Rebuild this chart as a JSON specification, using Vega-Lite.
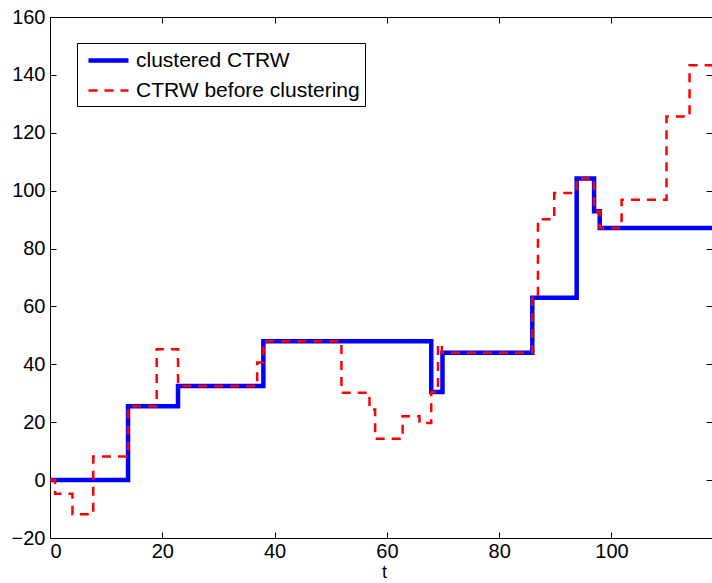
{
  "$schema": "https://vega.github.io/schema/vega-lite/v6.json",
  "autosize": {"type": "none"},
  "width": 662,
  "height": 521,
  "padding": {"left": 50, "top": 17, "right": 0, "bottom": 45},
  "background": "white",
  "config": {
    "view": {"stroke": "black", "strokeWidth": 1},
    "font": "Liberation Sans",
    "axis": {
      "grid": false,
      "domainColor": "black",
      "tickColor": "black",
      "labelColor": "black",
      "titleColor": "black",
      "labelFont": "Liberation Sans",
      "titleFont": "Liberation Sans",
      "labelFontSize": 20,
      "titleFontSize": 18,
      "titleFontWeight": "normal",
      "tickSize": -6
    }
  },
  "data": {
    "values": [
      {"series": "clustered CTRW", "t": 0, "v": 0},
      {"series": "clustered CTRW", "t": 13.9, "v": 25.5},
      {"series": "clustered CTRW", "t": 22.8, "v": 32.5},
      {"series": "clustered CTRW", "t": 38.0, "v": 48.0},
      {"series": "clustered CTRW", "t": 67.9, "v": 30.4},
      {"series": "clustered CTRW", "t": 69.9, "v": 44.0},
      {"series": "clustered CTRW", "t": 85.9, "v": 63.0},
      {"series": "clustered CTRW", "t": 93.8, "v": 104.2},
      {"series": "clustered CTRW", "t": 96.9, "v": 92.9},
      {"series": "clustered CTRW", "t": 97.9, "v": 87.1},
      {"series": "clustered CTRW", "t": 120, "v": 87.1},
      {"series": "CTRW before clustering", "t": 0, "v": 0},
      {"series": "CTRW before clustering", "t": 0.9, "v": -4.7},
      {"series": "CTRW before clustering", "t": 4.0, "v": -11.8},
      {"series": "CTRW before clustering", "t": 7.7, "v": 8.2},
      {"series": "CTRW before clustering", "t": 13.9, "v": 25.5},
      {"series": "CTRW before clustering", "t": 19.0, "v": 45.2},
      {"series": "CTRW before clustering", "t": 22.8, "v": 32.5},
      {"series": "CTRW before clustering", "t": 36.9, "v": 40.6},
      {"series": "CTRW before clustering", "t": 38.0, "v": 48.0},
      {"series": "CTRW before clustering", "t": 51.9, "v": 30.2},
      {"series": "CTRW before clustering", "t": 56.9, "v": 24.4},
      {"series": "CTRW before clustering", "t": 57.9, "v": 14.3},
      {"series": "CTRW before clustering", "t": 62.8, "v": 22.1},
      {"series": "CTRW before clustering", "t": 65.8, "v": 19.7},
      {"series": "CTRW before clustering", "t": 67.9, "v": 30.4},
      {"series": "CTRW before clustering", "t": 69.1, "v": 46.9},
      {"series": "CTRW before clustering", "t": 69.8, "v": 44.0},
      {"series": "CTRW before clustering", "t": 85.9, "v": 63.0},
      {"series": "CTRW before clustering", "t": 86.9, "v": 90.1},
      {"series": "CTRW before clustering", "t": 89.8, "v": 99.2},
      {"series": "CTRW before clustering", "t": 93.8, "v": 104.2},
      {"series": "CTRW before clustering", "t": 96.9, "v": 92.9},
      {"series": "CTRW before clustering", "t": 97.9, "v": 87.1},
      {"series": "CTRW before clustering", "t": 101.8, "v": 96.9},
      {"series": "CTRW before clustering", "t": 109.8, "v": 125.6},
      {"series": "CTRW before clustering", "t": 113.9, "v": 143.3},
      {"series": "CTRW before clustering", "t": 120, "v": 143.3}
    ]
  },
  "encoding": {
    "x": {"field": "t", "type": "quantitative", "scale": {"domain": [0, 117.9], "nice": false, "zero": false}},
    "y": {"field": "v", "type": "quantitative", "scale": {"domain": [-20, 160], "nice": false, "zero": false}},
    "color": {
      "field": "series", "type": "nominal",
      "scale": {"domain": ["clustered CTRW", "CTRW before clustering"], "range": ["#0000ff", "#ff0000"]},
      "legend": {
        "title": null, "orient": "none", "legendX": 27, "legendY": 26,
        "labelFontSize": 21, "labelFont": "Liberation Sans", "labelColor": "black",
        "symbolType": "M-2,0H2", "symbolSize": 400, "symbolOffset": 14, "labelOffset": 15,
        "strokeColor": "black", "fillColor": "white", "padding": 5, "rowPadding": 8,
        "labelLimit": 400, "cornerRadius": 0
      }
    },
    "strokeDash": {
      "field": "series", "type": "nominal",
      "scale": {"domain": ["clustered CTRW", "CTRW before clustering"], "range": [[1, 0], [9, 7]]},
      "legend": {"title": null}
    },
    "strokeWidth": {
      "field": "series", "type": "nominal",
      "scale": {"domain": ["clustered CTRW", "CTRW before clustering"], "range": [4.5, 2.5]},
      "legend": {"title": null}
    }
  },
  "layer": [
    {
      "transform": [{"filter": "datum.series === 'clustered CTRW'"}],
      "mark": {"type": "line", "interpolate": "step-after", "clip": true, "strokeCap": "butt"},
      "encoding": {
        "x": {"field": "t", "type": "quantitative", "axis": {"orient": "bottom", "values": [0, 20, 40, 60, 80, 100], "title": "t", "titleX": 334, "titlePadding": 2, "labelPadding": 9}},
        "y": {"field": "v", "type": "quantitative", "axis": {"orient": "left", "values": [-20, 0, 20, 40, 60, 80, 100, 120, 140, 160], "title": null, "labelPadding": 11}}
      }
    },
    {
      "transform": [{"filter": "datum.series === 'CTRW before clustering'"}],
      "mark": {"type": "line", "interpolate": "step-after", "clip": true, "strokeCap": "butt"},
      "encoding": {
        "x": {"field": "t", "type": "quantitative", "axis": {"orient": "top", "values": [0, 20, 40, 60, 80, 100], "labels": false, "title": null}},
        "y": {"field": "v", "type": "quantitative", "axis": {"orient": "right", "values": [-20, 0, 20, 40, 60, 80, 100, 120, 140, 160], "labels": false, "title": null}}
      }
    }
  ],
  "resolve": {"axis": {"x": "independent", "y": "independent"}}
}
